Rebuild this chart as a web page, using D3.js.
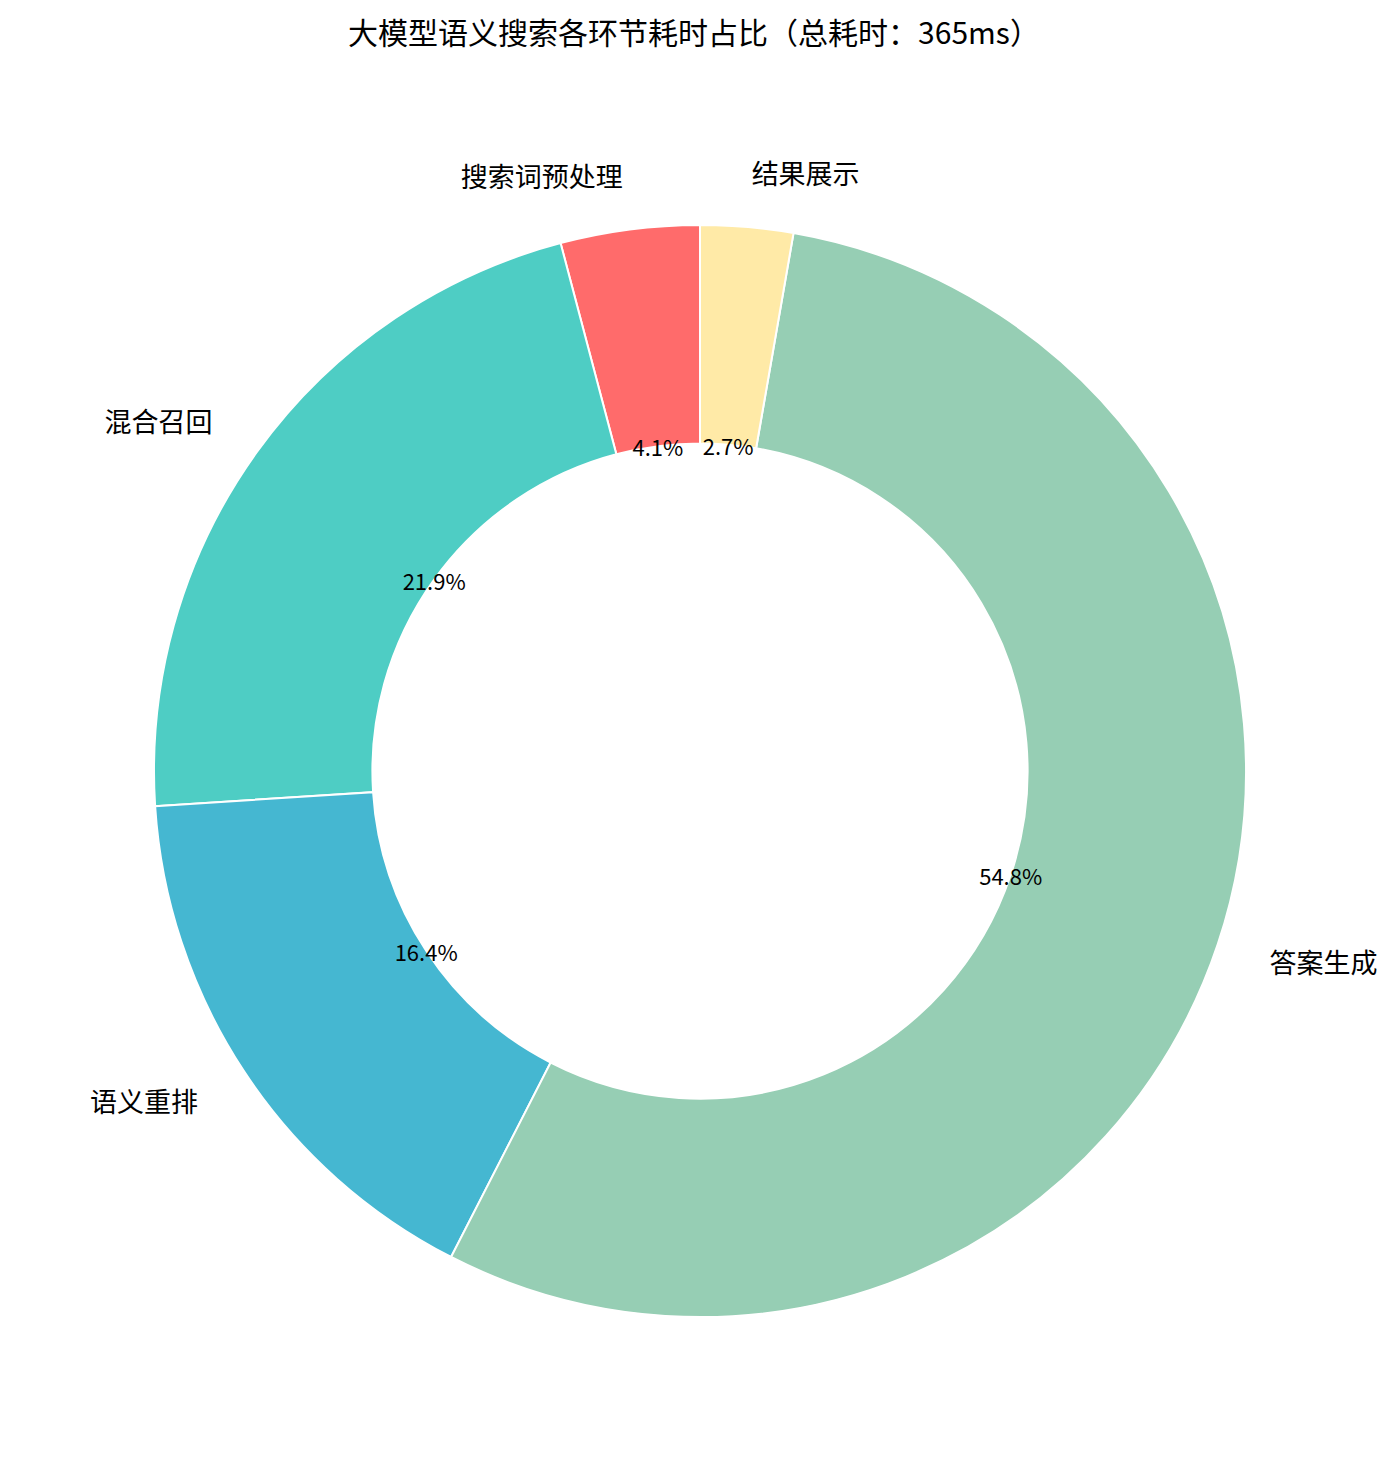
<!DOCTYPE html>
<html>
<head>
<meta charset="utf-8">
<script src="https://cdn.jsdelivr.net/npm/d3@7"></script>
<style>
  body { margin: 0; background: #fff; }
  text { font-family: "Noto Sans CJK SC", sans-serif; fill: #000; }
</style>
</head>
<body>
<div class="donut"></div>
<script>
// stage names, times (ms) and slice colours
const stages = ["搜索词预处理", "混合召回", "语义重排", "答案生成", "结果展示"];
const times = [15, 80, 60, 200, 10];
const colors = ["#FF6B6B", "#4ECDC4", "#45B7D1", "#96CEB4", "#FFEAA7"];
const title = "大模型语义搜索各环节耗时占比（总耗时：365ms）";

const width = 1400;
const height = 1472;
const cx = 700, cy = 771;
const radius = 546;

const total = d3.sum(times);
const data = stages.map((s, i) => ({ name: s, value: times[i], color: colors[i] }));

const svg = d3
  .select(".donut")
  .append("svg")
  .attr("width", width)
  .attr("height", height);

svg
  .append("text")
  .attr("x", 694)
  .attr("y", 31)
  .attr("text-anchor", "middle")
  .attr("dominant-baseline", "central")
  .style("font-size", "30px")
  .text(title);

const g = svg.append("g").attr("transform", "translate(" + cx + "," + cy + ")");

// counter-clockwise from 12 o'clock, like matplotlib startangle=90
const pie = d3
  .pie()
  .sort(null)
  .value((d) => d.value)
  .startAngle(0)
  .endAngle(-2 * Math.PI);

const arcs = pie(data);

const arc = d3.arc().innerRadius(radius * 0.6).outerRadius(radius);
const labelArc = d3.arc().innerRadius(radius * 1.1).outerRadius(radius * 1.1);
const pctArc = d3.arc().innerRadius(radius * 0.6).outerRadius(radius * 0.6);

g.selectAll("path")
  .data(arcs)
  .enter()
  .append("path")
  .attr("d", arc)
  .style("fill", (d) => d.data.color)
  .style("stroke", "#fff")
  .style("stroke-width", 2);

// outer labels
g.selectAll(".label")
  .data(arcs)
  .enter()
  .append("text")
  .attr("class", "label")
  .attr("x", (d) => labelArc.centroid(d)[0])
  .attr("y", (d) => labelArc.centroid(d)[1])
  .attr("text-anchor", (d) => (labelArc.centroid(d)[0] > 0 ? "start" : "end"))
  .attr("dominant-baseline", "central")
  .style("font-size", "27px")
  .text((d) => d.data.name);

// percentages
g.selectAll(".pct")
  .data(arcs)
  .enter()
  .append("text")
  .attr("class", "pct")
  .attr("x", (d) => pctArc.centroid(d)[0])
  .attr("y", (d) => pctArc.centroid(d)[1])
  .attr("text-anchor", "middle")
  .attr("dominant-baseline", "central")
  .style("font-size", "22px")
  .text((d) => ((d.data.value / total) * 100).toFixed(1) + "%");
</script>
</body>
</html>
